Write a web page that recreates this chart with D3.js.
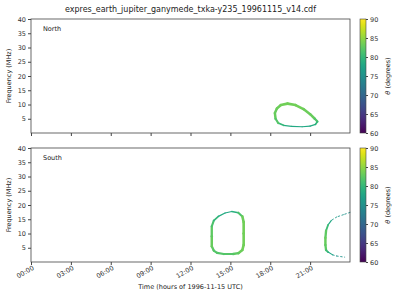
<!DOCTYPE html>
<html>
<head>
<meta charset="utf-8">
<script src="https://cdn.jsdelivr.net/npm/d3@7"></script>
<style>
  body { margin: 0; background: #fff; }
  text { font-family: "DejaVu Sans", sans-serif; fill: #222; }
  .axis path, .axis line { stroke: #444; }
  .axis text { font-size: 6.5px; fill: #333; }
</style>
</head>
<body>
<div id="chart"></div>
<script>
// tick values
const freqTicks = [5, 10, 15, 20, 25, 30, 35, 40];
const hourTicks = [0, 3, 6, 9, 12, 15, 18, 21];
const thetaTicks = [60, 65, 70, 75, 80, 85, 90];

// North emission (hours, MHz, theta deg)
const northTime  = [18.4, 18.35, 18.5, 18.8, 19.3, 19.9, 20.5, 21.0, 21.35, 21.55, 21.4, 21.0, 20.4, 19.6, 19.0, 18.6, 18.4];
const northFreq  = [5.0, 7.0, 8.6, 9.8, 10.3, 9.8, 8.4, 6.6, 5.0, 4.0, 3.0, 2.4, 2.2, 2.3, 2.7, 3.5, 5.0];
const northTheta = [83, 83, 83, 83.5, 83.5, 83.5, 83.5, 83, 83, 81, 79, 78, 78, 78, 79, 81, 83];

// South emission, first loop
const southATime  = [13.75, 13.6, 13.6, 13.6, 13.75, 14.1, 14.6, 15.1, 15.6, 15.9, 16.0, 16.0, 16.0, 15.9, 15.6, 15.2, 14.5, 14.0, 13.75];
const southAFreq  = [4.0, 5.5, 9.0, 12.5, 14.5, 16.0, 17.2, 17.7, 17.3, 16.0, 14.0, 10.0, 6.0, 4.2, 3.1, 2.8, 2.8, 3.2, 4.0];
const southATheta = [82, 83, 83, 82, 81, 79, 78, 78, 80, 83, 83.5, 83.5, 83.5, 83.5, 83, 82, 82, 82, 82];

// South emission, second (open) loop
const southBTime  = [24.0, 23.5, 23.0, 22.6, 22.35, 22.2, 22.15, 22.15, 22.2, 22.35, 22.7, 23.0, 23.6];
const southBFreq  = [17.4, 16.6, 15.8, 14.6, 13.0, 11.0, 8.5, 6.0, 4.2, 3.5, 2.5, 2.1, 1.7];
const southBTheta = [75, 75.5, 76, 77, 79, 82, 83, 83, 82, 79, 76.5, 75.5, 75.5];

const svg = d3.select("#chart").append("svg")
  .attr("width", 400).attr("height", 300);

const left = 31, right = 350;
const x = d3.scaleLinear().domain([0, 24]).range([left, right]);
const color = d3.scaleSequential(d3.interpolateViridis).domain([60, 90]);
const width = d3.scaleLinear().domain([77, 83.5]).range([0.9, 2.6]).clamp(true);

const panels = [
  { name: "North", top: 19, bottom: 133, curves: [[northTime, northFreq, northTheta]], labels: false },
  { name: "South", top: 148, bottom: 262, curves: [[southATime, southAFreq, southATheta], [southBTime, southBFreq, southBTheta]], labels: true }
];

// colorbar gradient
const grad = svg.append("defs").append("linearGradient")
  .attr("id", "viridis").attr("x1", 0).attr("y1", 1).attr("x2", 0).attr("y2", 0);
d3.range(0, 1.001, 0.05).forEach(t => {
  grad.append("stop").attr("offset", t).attr("stop-color", d3.interpolateViridis(t));
});

panels.forEach(p => {
  const y = d3.scaleLinear().domain([0, 40]).range([p.bottom, p.top]);
  const g = svg.append("g");

  // emission curves, drawn segment by segment
  p.curves.forEach(([t, f, th]) => {
    for (let i = 0; i < t.length - 1; i++) {
      const m = (th[i] + th[i + 1]) / 2;
      g.append("line")
        .attr("x1", x(t[i])).attr("y1", y(f[i]))
        .attr("x2", x(t[i + 1])).attr("y2", y(f[i + 1]))
        .attr("stroke", color(m))
        .attr("stroke-width", width(m))
        .attr("stroke-dasharray", m < 77 ? "1.5,2.5" : null)
        .attr("stroke-linecap", "round");
    }
  });

  // frame
  g.append("rect")
    .attr("x", left).attr("y", p.top)
    .attr("width", right - left).attr("height", p.bottom - p.top)
    .attr("fill", "none").attr("stroke", "#444").attr("stroke-width", 0.8);

  // y axis
  g.append("g").attr("class", "axis")
    .attr("transform", `translate(${left},0)`)
    .call(d3.axisLeft(y).tickValues(freqTicks).tickSize(3).tickPadding(2))
    .call(a => a.select(".domain").remove());

  // x axis
  const xa = g.append("g").attr("class", "axis")
    .attr("transform", `translate(0,${p.bottom})`)
    .call(d3.axisBottom(x).tickValues(hourTicks).tickSize(3)
      .tickFormat(d => p.labels ? d3.format("02")(d) + ":00" : ""))
    .call(a => a.select(".domain").remove());
  xa.selectAll("text")
    .attr("text-anchor", "end")
    .attr("dy", 0)
    .attr("transform", "translate(0,2) rotate(-30)");

  g.append("text")
    .attr("x", 43).attr("y", p.top + 12)
    .style("font-size", "6.5px")
    .text(p.name);

  g.append("text")
    .attr("transform", `translate(11,${(p.top + p.bottom) / 2}) rotate(-90)`)
    .attr("text-anchor", "middle")
    .style("font-size", "6.5px")
    .text("Frequency (MHz)");

  // colorbar
  const cy = d3.scaleLinear().domain([60, 90]).range([p.bottom, p.top]);
  g.append("rect")
    .attr("x", 360).attr("y", p.top)
    .attr("width", 6).attr("height", p.bottom - p.top)
    .attr("fill", "url(#viridis)").attr("stroke", "#444").attr("stroke-width", 0.6);
  g.append("g").attr("class", "axis")
    .attr("transform", "translate(366,0)")
    .call(d3.axisRight(cy).tickValues(thetaTicks).tickSize(2).tickPadding(2))
    .call(a => a.select(".domain").remove());
  const lab = g.append("text")
    .attr("transform", `translate(390,${(p.top + p.bottom) / 2}) rotate(-90)`)
    .attr("text-anchor", "middle")
    .style("font-size", "6.5px");
  lab.append("tspan").style("font-style", "italic").text("θ");
  lab.append("tspan").text(" (degrees)");
});

svg.append("text")
  .attr("x", (left + right) / 2).attr("y", 12)
  .attr("text-anchor", "middle")
  .style("font-size", "8px")
  .text("expres_earth_jupiter_ganymede_txka-y235_19961115_v14.cdf");

svg.append("text")
  .attr("x", (left + right) / 2).attr("y", 289)
  .attr("text-anchor", "middle")
  .style("font-size", "6.5px")
  .text("Time (hours of 1996-11-15 UTC)");
</script>
</body>
</html>
